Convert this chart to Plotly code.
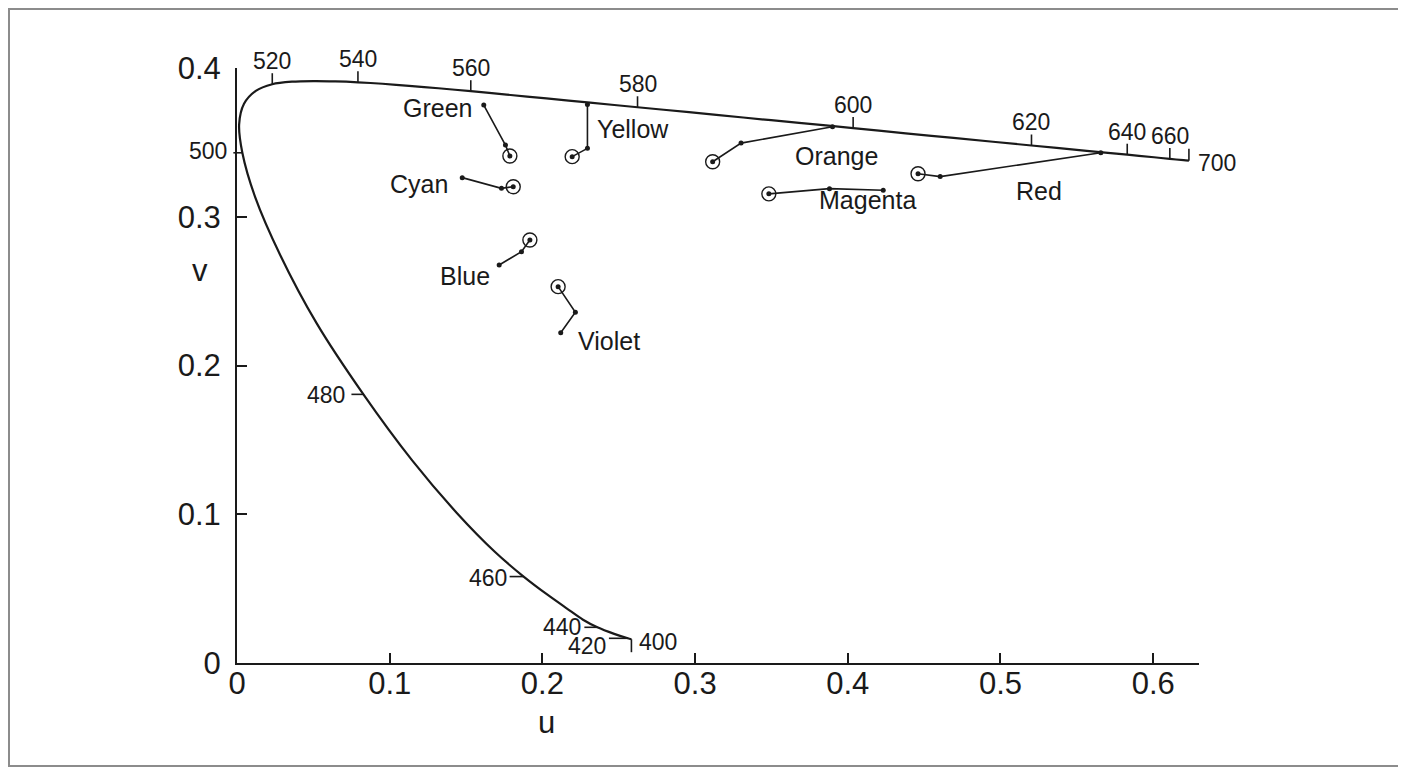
import plotly.graph_objects as go

# ---------------- data ----------------
WAVELENGTHS = [400, 420, 430, 440, 445, 450, 455, 460, 465, 470, 475,
               480, 485, 490, 495, 500, 505, 510, 515, 520, 525,
               530, 535, 540, 545, 550, 555, 560, 565, 570, 575,
               580, 585, 590, 595, 600, 605, 610, 620, 630, 640,
               650, 660, 680, 700]
LOCUS_U = [0.2583, 0.2560, 0.2470, 0.2360, 0.2266, 0.2161, 0.2033, 0.1877, 0.1690, 0.1441, 0.1147,
           0.0828, 0.0521, 0.0282, 0.0119, 0.0035, 0.0014, 0.0046, 0.0123, 0.0231, 0.0360,
           0.0501, 0.0643, 0.0792, 0.0953, 0.1127, 0.1319, 0.1531, 0.1766, 0.2026, 0.2312,
           0.2623, 0.2960, 0.3315, 0.3681, 0.4035, 0.4379, 0.4692, 0.5203, 0.5565, 0.5830,
           0.6005, 0.6109, 0.6199, 0.6234]
LOCUS_V = [0.0160, 0.0166, 0.0196, 0.0240, 0.0291, 0.0366, 0.0459, 0.0581, 0.0746, 0.1007, 0.1362,
           0.1806, 0.2285, 0.2745, 0.3132, 0.3430, 0.3621, 0.3759, 0.3846, 0.3891, 0.3908,
           0.3912, 0.3910, 0.3904, 0.3894, 0.3880, 0.3864, 0.3844, 0.3821, 0.3796, 0.3767,
           0.3736, 0.3703, 0.3667, 0.3631, 0.3596, 0.3561, 0.3530, 0.3479, 0.3443, 0.3417,
           0.3400, 0.3389, 0.3380, 0.3377]

LABELED_WL = [400, 420, 440, 460, 480, 500, 520, 540, 560, 580, 600, 620, 640, 660, 700]

X_TICKS = [0, 0.1, 0.2, 0.3, 0.4, 0.5, 0.6]
X_TICK_TEXT = ["0", "0.1", "0.2", "0.3", "0.4", "0.5", "0.6"]
Y_TICKS = [0, 0.1, 0.2, 0.3, 0.4]
Y_TICK_TEXT = ["0", "0.1", "0.2", "0.3", "0.4"]

# colour-name paths: first point is the circled one
GREEN_U = [0.1787, 0.1758, 0.1616]
GREEN_V = [0.3408, 0.3482, 0.3751]
YELLOW_U = [0.2195, 0.2295, 0.2295]
YELLOW_V = [0.3404, 0.3460, 0.3755]
CYAN_U = [0.1809, 0.1732, 0.1475]
CYAN_V = [0.3202, 0.3191, 0.3263]
BLUE_U = [0.1918, 0.1863, 0.1717]
BLUE_V = [0.2844, 0.2765, 0.2676]
VIOLET_U = [0.2103, 0.2216, 0.2120]
VIOLET_V = [0.2530, 0.2358, 0.2220]
ORANGE_U = [0.3115, 0.3301, 0.3900]
ORANGE_V = [0.3370, 0.3495, 0.3605]
MAGENTA_U = [0.3483, 0.3880, 0.4232]
MAGENTA_V = [0.3154, 0.3189, 0.3178]
RED_U = [0.4460, 0.4605, 0.5657]
RED_V = [0.3289, 0.3270, 0.3430]

COLOR_NAMES = ["Green", "Yellow", "Cyan", "Blue", "Violet", "Orange", "Magenta", "Red"]
COLOR_PATHS_U = [GREEN_U, YELLOW_U, CYAN_U, BLUE_U, VIOLET_U, ORANGE_U, MAGENTA_U, RED_U]
COLOR_PATHS_V = [GREEN_V, YELLOW_V, CYAN_V, BLUE_V, VIOLET_V, ORANGE_V, MAGENTA_V, RED_V]
NAME_LABEL_U = [0.1315, 0.2592, 0.1193, 0.1490, 0.2437, 0.3923, 0.4130, 0.5253]
NAME_LABEL_V = [0.3731, 0.3588, 0.3220, 0.2602, 0.2167, 0.3409, 0.3115, 0.3173]

# ---------------- layout geometry ----------------
OFF = 8                      # page body margin
W, H = 1406 - OFF, 768 - OFF
ML, MT = 237 - OFF, 68 - OFF
PW, PH = 962, 595
MR, MB = W - ML - PW, H - MT - PH
X_RANGE = [0, 0.63]
Y_RANGE = [0, 0.4]
DU = (X_RANGE[1] - X_RANGE[0]) / PW   # data units per px
DV = (Y_RANGE[1] - Y_RANGE[0]) / PH

FONT = "Liberation Sans, Arial, Helvetica, sans-serif"
INK = "#1a1a1a"


def dx_paper(u):
    return (u - X_RANGE[0]) / (X_RANGE[1] - X_RANGE[0])


def dy_paper(v):
    return (v - Y_RANGE[0]) / (Y_RANGE[1] - Y_RANGE[0])


def sx_paper(sx):
    return (sx - OFF - ML) / PW


def sy_paper(sy):
    return (MT + PH - (sy - OFF)) / PH


# tick style per labeled wavelength: direction, length(px), label anchor/shift
TICK_STYLE = {
    400: ("down", 13, dict(xanchor="left", yanchor="middle", xshift=6, yshift=-3)),
    420: ("left", 19, dict(xanchor="right", yanchor="middle", xshift=-1, yshift=-8)),
    440: ("left", 13, dict(xanchor="right", yanchor="middle", xshift=-1, yshift=0)),
    460: ("left", 14, dict(xanchor="right", yanchor="middle", xshift=-1, yshift=-1)),
    480: ("left", 12, dict(xanchor="right", yanchor="middle", xshift=-4, yshift=-1)),
    500: ("left", 9, dict(xanchor="right", yanchor="middle", xshift=-4, yshift=2)),
}
UP_STYLE = ("up", 11, dict(xanchor="center", yanchor="bottom", xshift=0, yshift=-3))
END_STYLE = ("up", 12, dict(xanchor="left", yanchor="middle", xshift=7, yshift=-2))

fig = go.Figure()

# spectrum locus
fig.add_trace(go.Scatter(x=LOCUS_U, y=LOCUS_V, mode="lines",
                         line=dict(color=INK, width=2.2, shape="spline", smoothing=0.8),
                         hoverinfo="skip", showlegend=False))

# wavelength ticks (paper shapes, so they are not clipped) + labels
shapes = []
annotations = []
for wl in LABELED_WL:
    i = WAVELENGTHS.index(wl)
    u0, v0 = LOCUS_U[i], LOCUS_V[i]
    if wl in TICK_STYLE:
        d, ln, an = TICK_STYLE[wl]
    elif wl == 700:
        d, ln, an = END_STYLE
    else:
        d, ln, an = UP_STYLE
    if d == "up":
        u1, v1 = u0, v0 + ln * DV
    elif d == "down":
        u1, v1 = u0, v0 - ln * DV
    else:
        u1, v1 = u0 - ln * DU, v0
    shapes.append(dict(type="line", xref="paper", yref="paper",
                       x0=dx_paper(u0), y0=dy_paper(v0), x1=dx_paper(u1), y1=dy_paper(v1),
                       line=dict(color=INK, width=1.6)))
    if wl in (700, 400):
        ax, ay = u0, v0
    else:
        ax, ay = u1, v1
    annotations.append(dict(x=dx_paper(ax), y=dy_paper(ay), xref="paper", yref="paper",
                            text=str(wl), showarrow=False,
                            font=dict(family=FONT, size=23, color=INK), **an))

# colour paths
for name, pu, pv in zip(COLOR_NAMES, COLOR_PATHS_U, COLOR_PATHS_V):
    fig.add_trace(go.Scatter(x=pu, y=pv, mode="lines+markers",
                             line=dict(color=INK, width=1.6),
                             marker=dict(size=5, color=INK),
                             name=name, hoverinfo="skip", showlegend=False))
    fig.add_trace(go.Scatter(x=[pu[0]], y=[pv[0]], mode="markers",
                             marker=dict(size=14, symbol="circle-open", color=INK,
                                         line=dict(color=INK, width=1.4)),
                             hoverinfo="skip", showlegend=False))

for name, lu, lv in zip(COLOR_NAMES, NAME_LABEL_U, NAME_LABEL_V):
    annotations.append(dict(x=lu, y=lv, xref="x", yref="y", text=name, showarrow=False,
                            xanchor="center", yanchor="middle",
                            font=dict(family=FONT, size=25, color=INK)))

# axis titles
annotations.append(dict(x=sx_paper(546), y=sy_paper(722), xref="paper", yref="paper", text="u",
                        showarrow=False, xanchor="center", yanchor="middle",
                        font=dict(family=FONT, size=31, color=INK)))
annotations.append(dict(x=sx_paper(200), y=sy_paper(270), xref="paper", yref="paper",
                        text="v", showarrow=False, xanchor="center", yanchor="middle",
                        font=dict(family=FONT, size=31, color=INK)))

# outer frame
shapes.append(dict(type="rect", xref="paper", yref="paper",
                   x0=sx_paper(9), x1=sx_paper(1403),
                   y0=sy_paper(766), y1=sy_paper(9),
                   line=dict(color="#8c8c8c", width=2), fillcolor="rgba(0,0,0,0)", layer="below"))

fig.update_layout(
    width=W, height=H,
    margin=dict(l=ML, r=MR, t=MT, b=MB, pad=0),
    paper_bgcolor="white", plot_bgcolor="white",
    annotations=annotations, shapes=shapes,
    font=dict(family=FONT, color=INK),
    xaxis=dict(range=X_RANGE, showgrid=False, zeroline=False, showline=True,
               linecolor=INK, linewidth=2, ticks="inside", ticklen=10, tickwidth=1.6,
               tickcolor=INK, tickvals=X_TICKS, ticktext=X_TICK_TEXT,
               tickfont=dict(family=FONT, size=31, color=INK), ticklabelstandoff=-8,
               fixedrange=True),
    yaxis=dict(range=Y_RANGE, showgrid=False, zeroline=False, showline=True,
               linecolor=INK, linewidth=2, ticks="inside", ticklen=10, tickwidth=1.6,
               tickcolor=INK, tickvals=Y_TICKS, ticktext=Y_TICK_TEXT,
               tickfont=dict(family=FONT, size=31, color=INK), ticklabelstandoff=8,
               fixedrange=True),
)

fig.write_html("out.html")
